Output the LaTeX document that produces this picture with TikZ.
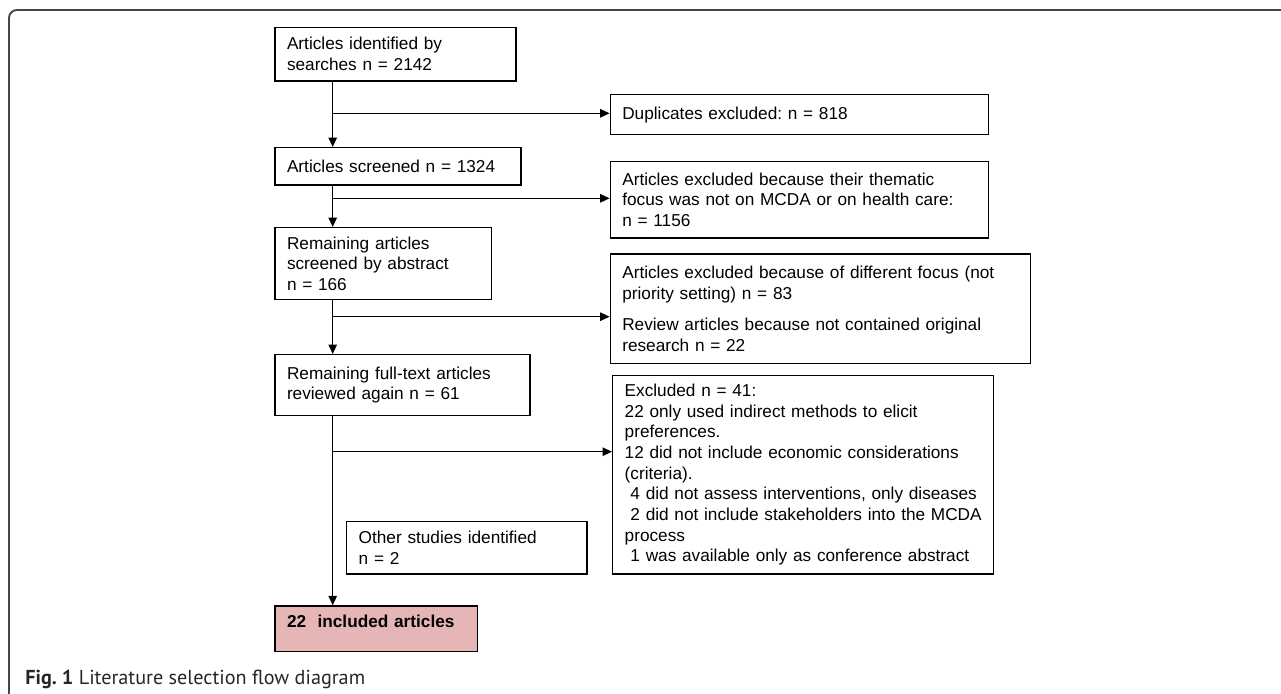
\documentclass[tikz,border=0pt]{standalone}
\usepackage{fontspec}
\setmainfont{Liberation Sans}
\newfontfamily\capfont{PT Sans}
\usetikzlibrary{arrows.meta}
\frenchspacing
\definecolor{incfill}{RGB}{230,182,182}
\definecolor{framegray}{RGB}{70,70,70}
\tikzset{box/.style={draw,line width=.8pt,anchor=north west,align=left,inner xsep=.24cm,inner ysep=.1cm,
 font=\fontsize{9.8}{11.75}\selectfont},
 arr/.style={-{Triangle[length=.19cm,width=.17cm]},line width=.75pt}}

\begin{document}
\begin{tikzpicture}[x=.02cm,y=-.02cm]
\useasboundingbox (0,0) rectangle (1281,693);
\draw[framegray,line width=1.1pt,rounded corners=.16cm] (9,720) -- (9,10) -- (1300,10);
\node[box,text width=4.34cm,minimum height=1.07cm] (ident) at (274.3,26.7) {Articles identified by\\ searches n = 2142};
\node[box,text width=4.44cm,minimum height=.746cm] (screen) at (274.3,147) {Articles screened n = 1324};
\node[box,text width=3.85cm,minimum height=1.44cm] (abstr) at (274.3,227) {Remaining articles\\ screened by abstract\\ n = 166};
\node[box,text width=4.62cm,minimum height=1.22cm] (fulltext) at (274.3,354) {Remaining full-text articles\\ reviewed again n = 61};
\node[box,fill=incfill,text width=3.57cm,minimum height=.914cm,text depth=.316cm,font=\fontsize{9.8}{11.75}\selectfont\bfseries] (incl) at (274.3,605.3) {22\ \ included articles};
\node[box,text width=7.08cm,minimum height=.8cm] (dupl) at (609.6,94) {Duplicates excluded: n = 818};
\node[box,text width=7.08cm,minimum height=1.53cm] (exfocus) at (609.6,160.7) {Articles excluded because their thematic\\ focus was not on MCDA or on health care:\\ n = 1156};
\node[box,text width=7.92cm,minimum height=2.19cm] (exdiff) at (609.6,253.3) {Articles excluded because of different focus (not\\ priority setting) n = 83\\[.22cm] Review articles because not contained original\\ research n = 22};
\node[box,text width=7.14cm,minimum height=3.97cm] (exfull) at (612,374.7) {Excluded n = 41:\\ 22 only used indirect methods to elicit\\ preferences.\\ 12 did not include economic considerations\\ (criteria).\\ \ 4 did not assess interventions, only diseases\\ \mbox{\ 2 did not include stakeholders into the MCDA}\\ process\\ \ 1 was available only as conference abstract};
\node[box,text width=4.33cm,minimum height=1.05cm] (other) at (346,520.7) {Other studies identified\\ n = 2};
\coordinate (b1) at (332.7,113.3);
\coordinate (b2) at (332.7,198.3);
\coordinate (b3) at (332.7,316.7);
\coordinate (b4) at (332.7,451.7);
\draw[arr] (ident.south -| b1) -- (screen.north -| b1);
\draw[arr] (screen.south -| b1) -- (abstr.north -| b1);
\draw[arr] (abstr.south -| b1) -- (fulltext.north -| b1);
\draw[arr] (fulltext.south -| b1) -- (incl.north -| b1);
\foreach \b/\t in {b1/dupl,b2/exfocus,b3/exdiff,b4/exfull} \draw[arr] (\b) -- (\b -| \t.west);
\node[anchor=base west,inner sep=0pt,text=black!85,font=\capfont\fontsize{11.5}{13}\selectfont] (caption) at (25,684) {\textbf{Fig. 1} Literature selection flow diagram};
\end{tikzpicture}
\end{document}
